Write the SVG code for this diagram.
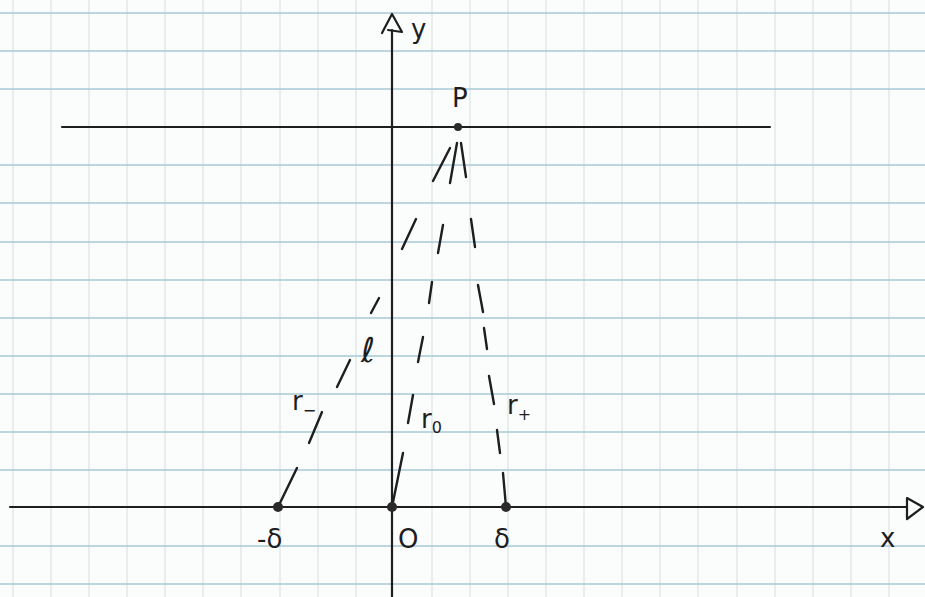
<svg xmlns="http://www.w3.org/2000/svg" width="925" height="597" viewBox="0 0 925 597">
<defs>
<style>
.hg{stroke:#a9c9d6;stroke-width:1.3}
.vg{stroke:#d6dfe0;stroke-width:1}
.ink{stroke:#1e1e1e;stroke-width:2.2;fill:none;stroke-linecap:round;stroke-linejoin:round}
.dash{stroke:#1e1e1e;stroke-width:2.4;fill:none;stroke-linecap:round}
.dot{fill:#2a2a2a}
text{font-family:"DejaVu Sans","Liberation Sans",sans-serif;fill:#1e1e1e;font-size:26px}
.sub{font-size:16px}
</style>
</defs>
<rect x="0" y="0" width="925" height="597" fill="#fbfcfc"/>
<g id="grid">
<g class="vg">
<line x1="13" y1="0" x2="13" y2="597"/><line x1="51" y1="0" x2="51" y2="597"/><line x1="89" y1="0" x2="89" y2="597"/><line x1="127" y1="0" x2="127" y2="597"/><line x1="165" y1="0" x2="165" y2="597"/><line x1="203" y1="0" x2="203" y2="597"/><line x1="241" y1="0" x2="241" y2="597"/><line x1="280" y1="0" x2="280" y2="597"/><line x1="318" y1="0" x2="318" y2="597"/><line x1="356" y1="0" x2="356" y2="597"/><line x1="432" y1="0" x2="432" y2="597"/><line x1="470" y1="0" x2="470" y2="597"/><line x1="508" y1="0" x2="508" y2="597"/><line x1="546" y1="0" x2="546" y2="597"/><line x1="584" y1="0" x2="584" y2="597"/><line x1="622" y1="0" x2="622" y2="597"/><line x1="660" y1="0" x2="660" y2="597"/><line x1="698" y1="0" x2="698" y2="597"/><line x1="737" y1="0" x2="737" y2="597"/><line x1="775" y1="0" x2="775" y2="597"/><line x1="813" y1="0" x2="813" y2="597"/><line x1="851" y1="0" x2="851" y2="597"/><line x1="889" y1="0" x2="889" y2="597"/>
</g>
<g class="hg">
<line x1="0" y1="13" x2="925" y2="13"/><line x1="0" y1="51" x2="925" y2="51"/><line x1="0" y1="89" x2="925" y2="89"/><line x1="0" y1="165" x2="925" y2="165"/><line x1="0" y1="203" x2="925" y2="203"/><line x1="0" y1="242" x2="925" y2="242"/><line x1="0" y1="280" x2="925" y2="280"/><line x1="0" y1="318" x2="925" y2="318"/><line x1="0" y1="356" x2="925" y2="356"/><line x1="0" y1="394" x2="925" y2="394"/><line x1="0" y1="432" x2="925" y2="432"/><line x1="0" y1="470" x2="925" y2="470"/><line x1="0" y1="546" x2="925" y2="546"/><line x1="0" y1="584" x2="925" y2="584"/>
</g>
</g>
<g id="axes">
<line class="ink" x1="10" y1="507" x2="907" y2="507"/>
<path class="ink" d="M907,498 L923,507 L907,519 Z"/>
<line class="ink" x1="392" y1="597" x2="392" y2="30"/>
<path class="ink" d="M382,33 L392,14 L402,32 L388,30"/>
<line class="ink" x1="62" y1="127" x2="770" y2="127"/>
</g>
<g id="connectors">
<g id="r-minus">
<line class="dash" x1="278" y1="507" x2="297" y2="468"/>
<line class="dash" x1="309" y1="443" x2="322" y2="412"/>
<line class="dash" x1="337" y1="387" x2="350" y2="360"/>
<line class="dash" x1="371" y1="313" x2="379" y2="298"/>
<line class="dash" x1="402" y1="249" x2="416" y2="219"/>
<line class="dash" x1="433" y1="181" x2="450" y2="148"/>
</g>
<g id="r-zero">
<line class="dash" x1="392" y1="507" x2="403" y2="453"/>
<line class="dash" x1="408" y1="423" x2="413" y2="395"/>
<line class="dash" x1="418" y1="362" x2="423" y2="337"/>
<line class="dash" x1="429" y1="303" x2="432" y2="282"/>
<line class="dash" x1="438" y1="253" x2="443" y2="225"/>
<line class="dash" x1="450" y1="183" x2="457" y2="143"/>
</g>
<g id="r-plus">
<line class="dash" x1="506" y1="507" x2="503" y2="473"/>
<line class="dash" x1="500" y1="453" x2="497" y2="430"/>
<line class="dash" x1="494" y1="404" x2="489" y2="376"/>
<line class="dash" x1="487" y1="349" x2="484" y2="328"/>
<line class="dash" x1="483" y1="312" x2="478" y2="285"/>
<line class="dash" x1="475" y1="247" x2="471" y2="219"/>
<line class="dash" x1="466" y1="177" x2="461" y2="143"/>
</g>
</g>
<g id="node-P"><circle class="dot" cx="458" cy="127" r="4"/><text x="452" y="107">P</text></g>
<g id="node-minus-delta"><circle class="dot" cx="278" cy="507" r="5"/><text x="257" y="548">-δ</text></g>
<g id="node-O"><circle class="dot" cx="392" cy="507" r="5"/><text x="398" y="548">O</text></g>
<g id="node-delta"><circle class="dot" cx="506" cy="507" r="5"/><text x="494" y="548">δ</text></g>
<g id="labels">
<text x="411" y="38">y</text>
<text x="880" y="547">x</text>
<text x="361" y="362" style="font-size:34px">ℓ</text>
<text x="292" y="410">r<tspan class="sub" dy="6">−</tspan></text>
<text x="421" y="428">r<tspan class="sub" dy="5">0</tspan></text>
<text x="507" y="414">r<tspan class="sub" dy="6">+</tspan></text>
</g>
</svg>
